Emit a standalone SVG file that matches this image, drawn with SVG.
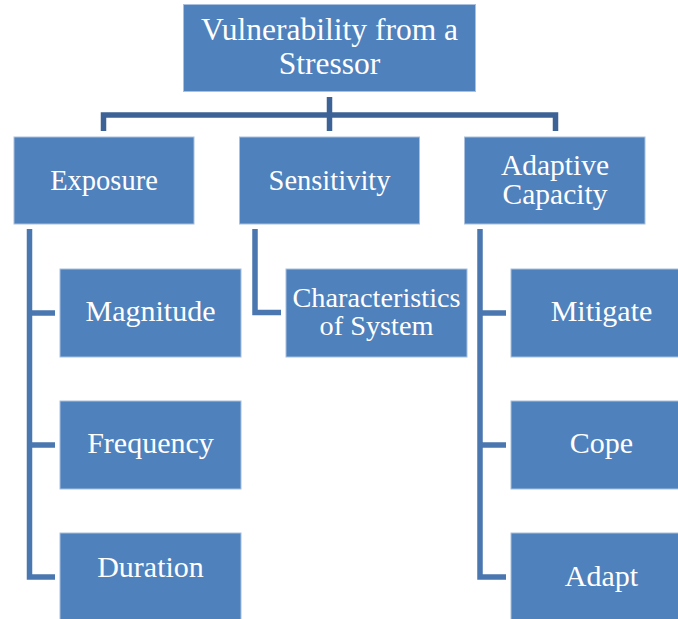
<svg xmlns="http://www.w3.org/2000/svg" width="678" height="619" viewBox="0 0 678 619">
<style>
.box{fill:#4F81BD;stroke:#A9C0DE;stroke-width:1}
.t{font-family:"Liberation Serif","Times New Roman",serif;fill:#FFFFFF;text-anchor:middle}
.top{stroke:#3D6396;stroke-width:5.5;fill:none}
.br{stroke:#4A77AF;stroke-width:5.5;fill:none}
</style>
<rect width="678" height="619" fill="#FFFFFF"/>
<g id="connectors">
<path class="top" d="M329.5 97 V131 M103.5 131 V115 H555.5 V131"/>
<path class="br" d="M29.5 229 V577 H55 M29.5 313 H55 M29.5 445 H55"/>
<path class="br" d="M255 229 V312.5 H281"/>
<path class="br" d="M480 229 V577 H506 M480 313 H506 M480 445 H506"/>
</g>
<g id="n-root"><rect class="box" x="183.5" y="4.5" width="292" height="87"/><text class="t" x="329.5" y="40" font-size="31.5">Vulnerability from a</text><text class="t" x="329.5" y="74" font-size="31.5">Stressor</text></g>
<g id="n-exposure"><rect class="box" x="14" y="137" width="180" height="87"/><text class="t" x="104" y="190" font-size="28.5">Exposure</text></g>
<g id="n-sensitivity"><rect class="box" x="239.5" y="137" width="180" height="87"/><text class="t" x="329.5" y="190" font-size="28.5">Sensitivity</text></g>
<g id="n-adaptive"><rect class="box" x="464.5" y="137" width="180.5" height="87"/><text class="t" x="555" y="175" font-size="29.5">Adaptive</text><text class="t" x="555" y="204" font-size="29.5">Capacity</text></g>
<g id="n-magnitude"><rect class="box" x="60" y="269" width="181" height="88"/><text class="t" x="150.5" y="321" font-size="30">Magnitude</text></g>
<g id="n-frequency"><rect class="box" x="60" y="401" width="181" height="88"/><text class="t" x="150.5" y="453" font-size="30">Frequency</text></g>
<g id="n-duration"><rect class="box" x="60" y="533" width="181" height="90"/><text class="t" x="150.5" y="577" font-size="30">Duration</text></g>
<g id="n-characteristics"><rect class="box" x="286" y="269" width="181" height="88"/><text class="t" x="376.5" y="307" font-size="28.3">Characteristics</text><text class="t" x="376.5" y="335" font-size="28.3">of System</text></g>
<g id="n-mitigate"><rect class="box" x="511" y="269" width="181" height="88"/><text class="t" x="601.5" y="321" font-size="30">Mitigate</text></g>
<g id="n-cope"><rect class="box" x="511" y="401" width="181" height="88"/><text class="t" x="601.5" y="453" font-size="30">Cope</text></g>
<g id="n-adapt"><rect class="box" x="511" y="533" width="181" height="90"/><text class="t" x="601.5" y="586" font-size="30">Adapt</text></g>
</svg>
